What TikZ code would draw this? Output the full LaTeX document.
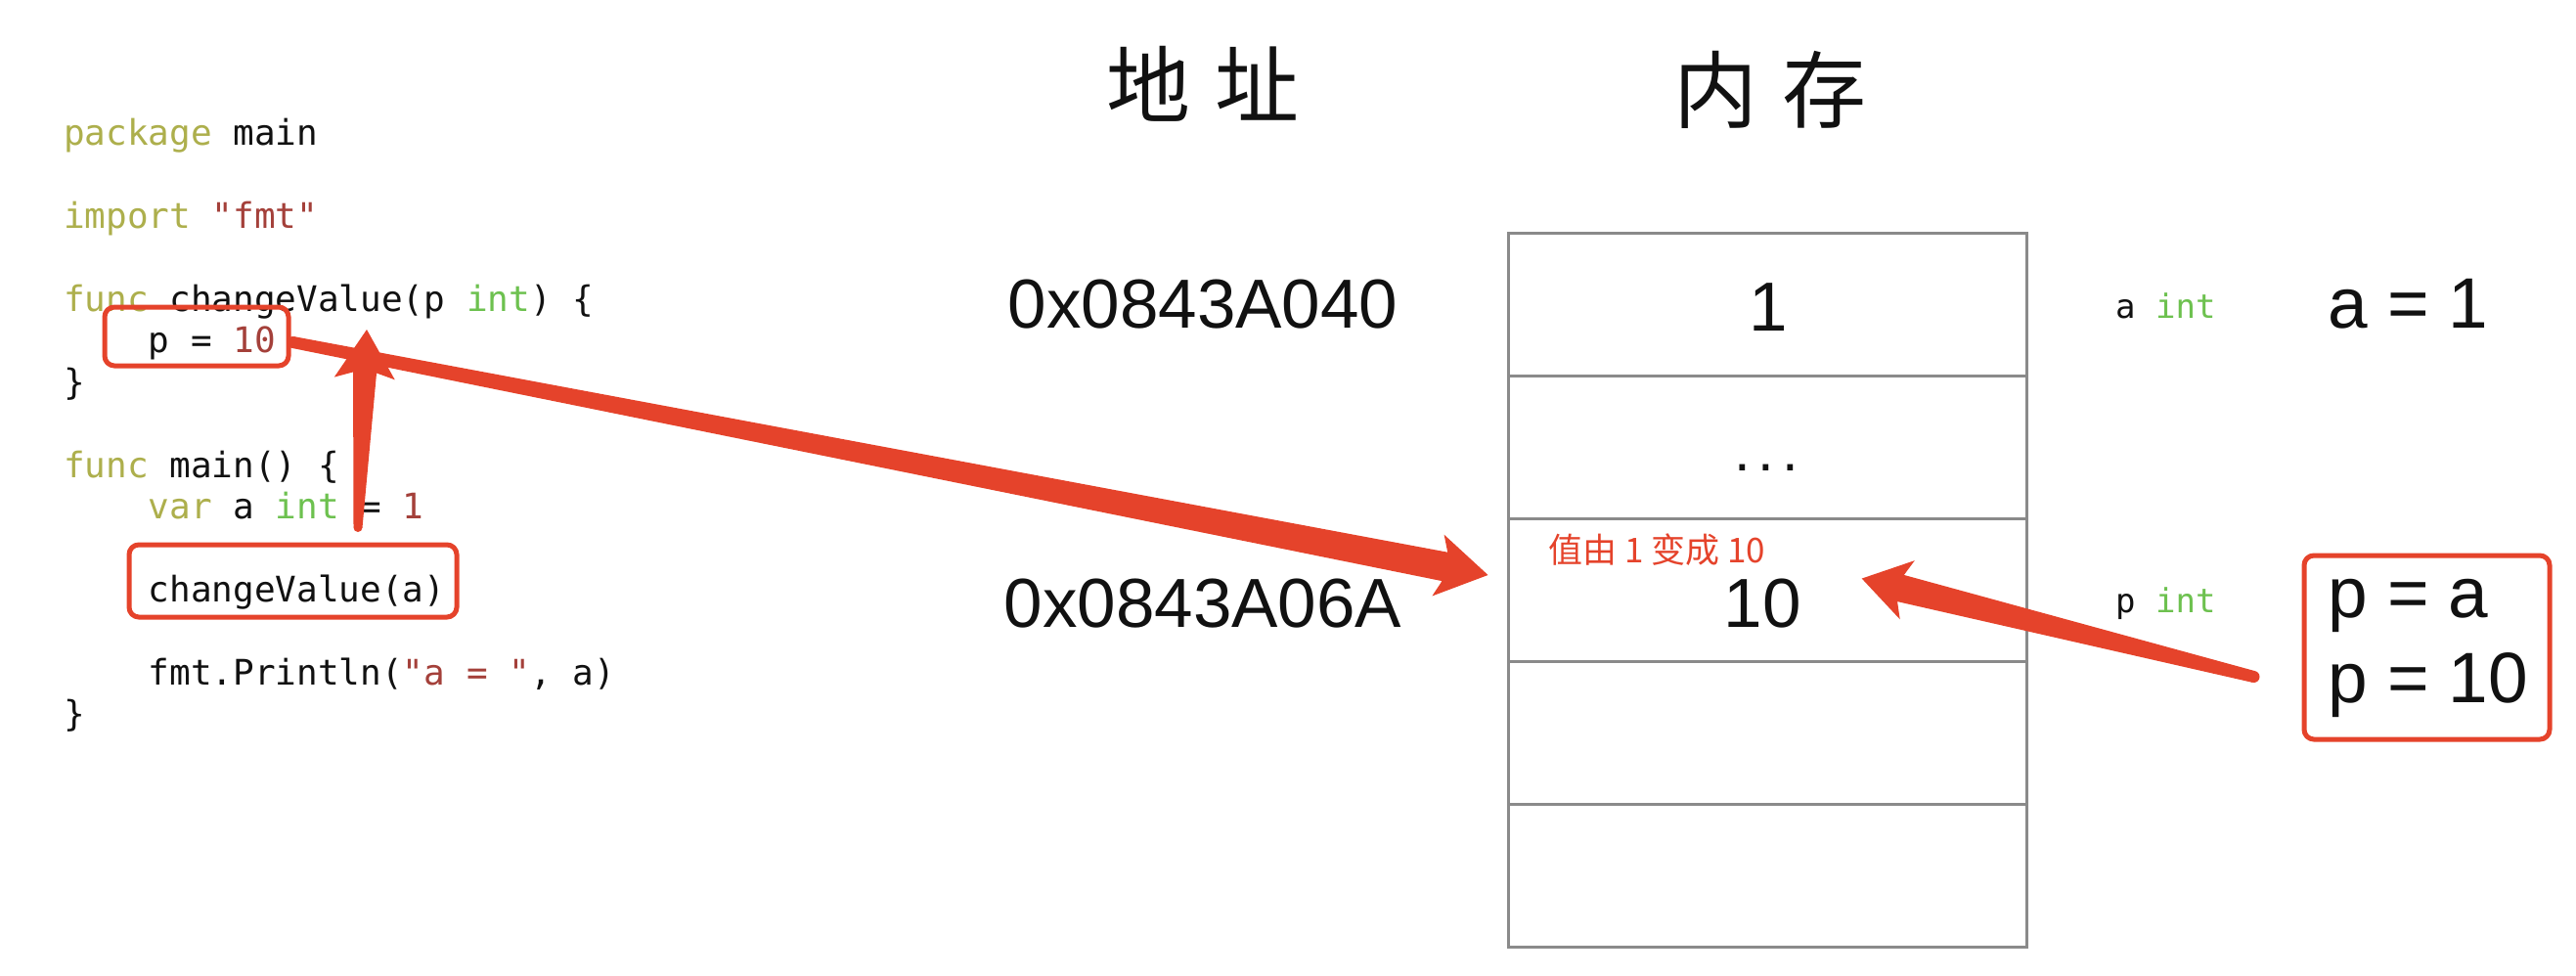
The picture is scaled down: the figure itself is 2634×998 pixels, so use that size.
\documentclass[tikz,border=0pt]{standalone}
\usepackage{fontspec}
\setmainfont{Liberation Sans}
\newfontfamily\codefont{DejaVu Sans Mono}[Ligatures=TeXOff]
\newfontfamily\cjk{Noto Sans CJK SC}
\usetikzlibrary{calc}
\definecolor{kw}{HTML}{ADAF4C}
\definecolor{ty}{HTML}{6DC14F}
\definecolor{lit}{HTML}{A4403A}
\definecolor{redc}{HTML}{E5432B}
\definecolor{cellgray}{HTML}{8A8A8A}
\definecolor{ink}{HTML}{111111}
% fat tapered arrow: #1 tail, #2 tip, #3 tail half-width, #4 neck half-width,
% #5 neck distance from tip, #6 wing distance from tip, #7 wing half-width
\newcommand\fatarrow[7]{%
  \coordinate (tmpT) at (#1);
  \coordinate (tmpH) at (#2);
  \coordinate (tmpN) at ($(tmpH)!#5!(tmpT)$);
  \coordinate (tmpW) at ($(tmpH)!#6!(tmpT)$);
  \fill[redc] ($(tmpT)!#3!90:(tmpH)$) -- ($(tmpN)!#4!-90:(tmpT)$) --
    ($(tmpW)!#7!-90:(tmpT)$) -- (tmpH) -- ($(tmpW)!#7!90:(tmpT)$) --
    ($(tmpN)!#4!90:(tmpT)$) -- ($(tmpT)!#3!-90:(tmpH)$) -- cycle;
  \fill[redc] (tmpT) circle[radius=#3];
}
\begin{document}
\begin{tikzpicture}[x=1pt,y=-1pt,
  code/.style={anchor=base west,inner sep=0pt,text=ink,font=\codefont\fontsize{36}{40}\selectfont},
  smallcode/.style={anchor=base west,inner sep=0pt,text=ink,font=\codefont\fontsize{34}{38}\selectfont},
  big/.style={anchor=base,inner sep=0pt,text=ink,font=\fontsize{71}{80}\selectfont},
  bigw/.style={anchor=base west,inner sep=0pt,text=ink,font=\fontsize{73}{80}\selectfont},
  title/.style={inner sep=0pt,text=ink,font=\cjk\fontsize{86}{90}\selectfont},
  cell/.style={draw=cellgray,line width=3pt,minimum width=530pt,minimum height=146pt,inner sep=0pt},
  redbox/.style={draw=redc,line width=5pt,rounded corners=10pt,inner sep=0pt},
  note/.style={anchor=west,inner sep=0pt,text=redc,font=\cjk\fontsize{35}{38}\selectfont}]
\fill[white] (0,0) rectangle (2634,998);
\useasboundingbox (0,0) rectangle (2634,998);

% titles
\node[title] (t1) at (1230,86) {地\hspace{26pt}址};
\node[title] (t2) at (1810,92) {内\hspace{26pt}存};

% code
\node[code] (l1) at (65,148) {\textcolor{kw}{package} main};
\node[code] (l2) at (65,233) {\textcolor{kw}{import} \textcolor{lit}{"fmt"}};
\node[code] (l3) at (65,318) {\textcolor{kw}{func} changeValue(p \textcolor{ty}{int}) \{};
\node[code] (l4) at (151.7,360) {p = \textcolor{lit}{10}};
\node[code] (l5) at (65,403) {\}};
\node[code] (l6) at (65,488) {\textcolor{kw}{func} main() \{};
\node[code] (l7) at (151.7,530) {\textcolor{kw}{var} a \textcolor{ty}{int} = \textcolor{lit}{1}};
\node[code] (l8) at (151.7,615) {changeValue(a)};
\node[code] (l9) at (151.7,700) {fmt.Println(\textcolor{lit}{"a = "}, a)};
\node[code] (l10) at (65,742) {\}};

% red boxes in code
\node[redbox,minimum width=188pt,minimum height=60pt] (b1) at (201,344) {};
\node[redbox,minimum width=335pt,minimum height=74pt] (b2) at (299.5,594) {};

% memory cells
\node[cell] (c1) at (1807,311) {};
\node[cell] (c2) at (1807,457) {};
\node[cell] (c3) at (1807,603) {};
\node[cell] (c4) at (1807,749) {};
\node[cell] (c5) at (1807,895) {};

% addresses
\node[big] (ad1) at (1230,335) {0x0843A040};
\node[big] (ad2) at (1230,641) {0x0843A06A};

% values
\node[big] (v1) at (1808,338) {1};
\node[big,font=\fontsize{60}{64}\selectfont] (v2) at (1806,481) {.\hspace{8pt}.\hspace{8pt}.};
\node[big] (v3) at (1802,641) {10};
\node[note] (n1) at (1583,562) {值由 1 变成 10};

% right side
\node[smallcode] (r1) at (2163,325) {a \textcolor{ty}{int}};
\node[smallcode] (r2) at (2163,626) {p \textcolor{ty}{int}};
\node[bigw] (r3) at (2380,335) {a = 1};
\node[bigw] (r4) at (2380,631) {p = a};
\node[bigw] (r5) at (2380,718) {p = 10};
\node[redbox,minimum width=251pt,minimum height=188pt] (b3) at (2481.5,662) {};

% arrows
\coordinate (aTv) at ($(b2.north)+(66.5,-15)$);
\coordinate (aHv) at (375,337);
\fatarrow{aTv}{aHv}{4.5pt}{12pt}{44pt}{50pt}{31pt}

\coordinate (aTd) at ($(b1.east)+(2,6)$);
\coordinate (aHd) at ($(c3.west)+(-19,-15)$);
\fatarrow{aTd}{aHd}{6pt}{15pt}{45pt}{52pt}{32pt}

\coordinate (aTr) at ($(b3.west)+(-49,30)$);
\coordinate (aHr) at ($(v3.east)+(62,-25)$);
\fatarrow{aTr}{aHr}{6pt}{14pt}{41pt}{48pt}{31pt}
\end{tikzpicture}
\end{document}
